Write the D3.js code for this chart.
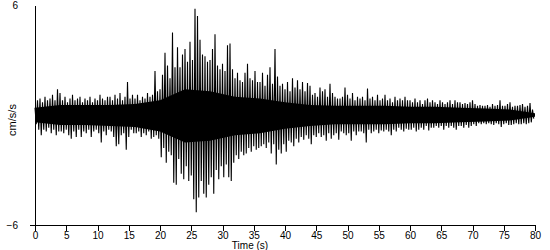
<!DOCTYPE html>
<html lang="en">
<head>
    <meta charset="UTF-8">
    <title>Accelerogram</title>
    <script type="text/javascript" src="https://cdnjs.cloudflare.com/ajax/libs/d3/7.8.5/d3.min.js"></script>
    <style>
        body { margin: 0; background: white; }
        text { font-family: "Liberation Sans", Arial, sans-serif; font-size: 10px; fill: black; }
    </style>
</head>
<body>
<svg id="chart" width="550" height="250"></svg>

<script type="text/javascript">
    // Peak values (cm/s/s), one pair per 0.4 s window
    const sampleStep = 0.4;
    const peakHigh = [
        0.4, 0.8, 0.9, 0.7, 1.0, 0.8, 0.9, 1.1, 0.8, 1.4,
        1.2, 0.8, 1.0, 0.7, 0.9, 1.1, 0.8, 0.9, 1.0, 0.7,
        0.9, 0.8, 1.0, 0.7, 0.9, 0.8, 1.1, 0.9, 0.8, 1.0,
        1.0, 0.8, 1.1, 0.9, 1.2, 0.8, 1.0, 1.8, 0.9, 1.1,
        0.9, 1.1, 0.8, 1.0, 0.9, 1.2, 1.0, 1.1, 2.4, 1.3,
        1.4, 2.2, 3.4, 2.7, 2.0, 4.5, 2.6, 3.7, 2.6, 3.3,
        3.6, 2.9, 4.0, 3.0, 5.8, 5.4, 4.1, 3.3, 3.2, 2.9,
        3.0, 3.6, 4.4, 2.7, 2.5, 2.8, 2.4, 3.8, 3.9, 2.5,
        2.0, 2.3, 1.9, 1.8, 2.3, 2.8, 2.0, 1.9, 2.4, 1.8,
        1.8, 2.3, 1.6, 2.2, 2.6, 1.7, 3.6, 2.1, 1.6, 1.7,
        1.4, 1.8, 1.3, 2.0, 1.5, 1.9, 1.4, 1.8, 1.3, 1.75,
        1.6, 1.1, 1.2, 1.0, 1.5, 1.3, 1.4, 1.0, 1.7, 1.2,
        1.0, 0.9, 0.9, 1.0, 1.5, 1.1, 0.9, 1.2, 0.8, 1.0,
        0.9, 1.0, 0.8, 1.45, 0.9, 1.0, 0.8, 1.1, 0.8, 0.9,
        1.1, 0.8, 0.9, 0.7, 1.0, 0.8, 0.9, 0.8, 1.0, 0.8,
        0.8, 0.7, 0.9, 0.7, 0.8, 0.6, 0.8, 0.9, 0.7, 0.8,
        0.7, 0.6, 0.8, 0.7, 0.6, 0.7, 0.8, 0.6, 0.8, 0.7,
        0.7, 0.6, 0.65, 0.6, 0.7, 0.8, 0.6, 0.5, 0.55, 0.5,
        0.5, 0.55, 0.45, 0.6, 0.5, 0.55, 0.8, 0.5, 0.5, 0.6,
        0.7, 0.45, 0.5, 0.5, 0.55, 0.6, 0.45, 0.5, 0.65, 0.3
    ];
    const peakLow = [
        -0.5, -0.8, -1.1, -0.8, -0.9, -0.7, -1.0, -0.8, -1.1, -0.9,
        -0.9, -1.0, -0.8, -1.1, -1.3, -0.9, -1.2, -0.8, -1.2, -0.9,
        -1.0, -0.8, -1.2, -0.9, -0.8, -1.0, -1.5, -0.9, -1.1, -0.8,
        -0.9, -1.2, -1.7, -1.6, -1.1, -1.0, -1.9, -1.2, -0.8, -1.0,
        -1.0, -0.9, -1.2, -1.0, -1.1, -0.9, -1.3, -1.2, -1.1, -1.3,
        -2.3, -1.8, -2.6, -2.0, -2.2, -3.7, -3.8, -2.4, -3.2, -3.5,
        -2.8, -3.6, -3.3, -4.6, -5.3, -4.5, -3.6, -4.3, -4.5, -3.8,
        -3.4, -4.3, -3.0, -3.5, -2.8, -3.4, -2.7, -3.4, -3.6, -2.6,
        -2.2, -2.4, -2.0, -2.2, -2.1, -1.8, -2.0, -1.7, -1.9, -1.8,
        -1.7, -1.6, -1.8, -1.5, -2.1, -1.6, -2.7, -1.9, -2.1, -1.6,
        -2.0, -1.4, -1.5, -1.7, -1.3, -1.5, -1.2, -1.35, -1.1, -1.3,
        -1.6, -1.1, -1.2, -1.0, -1.2, -1.1, -1.4, -1.0, -1.3, -1.1,
        -1.0, -1.35, -0.9, -1.0, -1.1, -1.0, -1.4, -0.9, -1.1, -0.9,
        -0.9, -1.0, -1.5, -0.8, -1.0, -0.9, -0.8, -1.0, -0.85, -0.9,
        -0.8, -0.9, -1.1, -0.8, -0.9, -0.7, -0.8, -0.9, -0.75, -0.8,
        -0.8, -0.7, -0.9, -0.8, -0.7, -0.8, -0.6, -0.85, -0.7, -0.7,
        -0.6, -0.7, -0.6, -0.8, -0.6, -0.7, -0.6, -0.7, -0.8, -0.6,
        -0.6, -0.7, -0.55, -0.7, -0.6, -0.5, -0.6, -0.45, -0.5, -0.45,
        -0.5, -0.45, -0.5, -0.55, -0.45, -0.5, -0.65, -0.5, -0.45, -0.55,
        -0.55, -0.5, -0.45, -0.5, -0.5, -0.45, -0.5, -0.45, -0.4, -0.2
    ];
    // solid core of the trace, read every 4 s
    const coreStep = 4;
    const coreHigh = [0.4, 0.55, 0.55, 0.55, 0.6, 0.8, 1.4, 1.3, 1.0, 0.9, 0.7,
                      0.55, 0.5, 0.5, 0.5, 0.45, 0.45, 0.4, 0.35, 0.3, 0.1];
    const coreLow = [-0.4, -0.55, -0.55, -0.6, -0.65, -0.9, -1.5, -1.4, -1.1, -1.0, -0.75,
                     -0.6, -0.5, -0.5, -0.5, -0.45, -0.45, -0.4, -0.35, -0.3, -0.1];
    const timeTicks = d3.range(0, 81, 5);
    const ampTicks = [-6, 6];

    const svg = d3.select("#chart");

    const x = d3.scaleLinear().domain([0, 80]).range([35, 535]);
    const y = d3.scaleLinear().domain([-6, 6]).range([225, 5]);

    // solid core band
    const area = d3.area()
        .x((d, i) => x(i * coreStep))
        .y0((d, i) => y(coreLow[i]))
        .y1(d => y(d));

    svg.append("path")
        .datum(coreHigh)
        .attr("fill", "black")
        .attr("d", area);

    // zigzag through the high / low peaks of each window
    const trace = [];
    peakHigh.forEach(function(h, i) {
        trace.push([i * sampleStep, h]);
        trace.push([i * sampleStep + sampleStep / 2, peakLow[i]]);
    });

    const line = d3.line()
        .x(d => x(d[0]))
        .y(d => y(d[1]));

    svg.append("path")
        .datum(trace)
        .attr("fill", "none")
        .attr("stroke", "black")
        .attr("stroke-width", 1.1)
        .attr("d", line);

    // x axis
    svg.append("g")
        .attr("transform", "translate(0,225)")
        .call(d3.axisBottom(x).tickValues(timeTicks).tickSize(6).tickPadding(1).tickSizeOuter(0));

    // y axis
    const yAxis = svg.append("g")
        .attr("transform", "translate(35,0)")
        .call(d3.axisLeft(y).tickValues(ampTicks).tickSize(5).tickPadding(12).tickSizeOuter(0));
    yAxis.selectAll(".tick").filter(d => d === 6).select("line").remove();

    svg.selectAll(".domain, .tick line").attr("stroke", "black").attr("shape-rendering", "crispEdges");
    svg.selectAll(".tick text").style("font-family", "Liberation Sans, Arial, sans-serif").style("font-size", "10px");

    svg.append("text")
        .attr("x", 250)
        .attr("y", 249)
        .attr("text-anchor", "middle")
        .text("Time (s)");

    svg.append("text")
        .attr("transform", "translate(16,120) rotate(-90)")
        .attr("text-anchor", "middle")
        .style("font-size", "11px")
        .text("cm/s/s");
</script>

</body>
</html>
